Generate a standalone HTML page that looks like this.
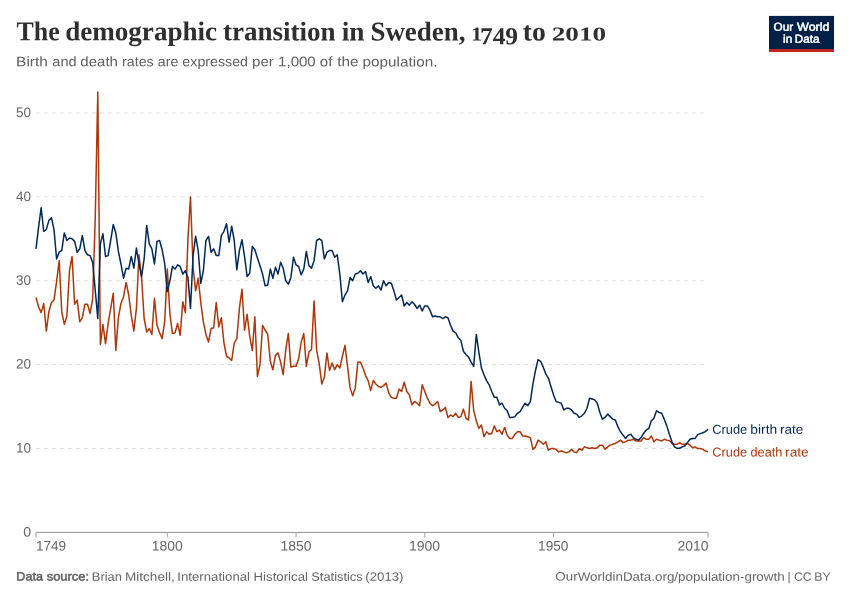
<!DOCTYPE html>
<html><head><meta charset="utf-8"><title>The demographic transition in Sweden, 1749 to 2010</title>
<style>
html,body{margin:0;padding:0;background:#fff;}
body{width:850px;height:600px;overflow:hidden;position:relative;font-family:"Liberation Sans",sans-serif;}
svg{position:absolute;left:0;top:0;}
text{text-rendering:geometricPrecision;}
.title{font-family:"Liberation Serif",serif;font-weight:bold;fill:#2f2f2f;}
.sub{font-family:"Liberation Sans",sans-serif;fill:#606060;}
.ax{font-family:"Liberation Sans",sans-serif;fill:#666;}
.foot{font-family:"Liberation Sans",sans-serif;fill:#666;}
.footb{font-family:"Liberation Sans",sans-serif;font-weight:normal;fill:#5b5b5b;stroke:#5b5b5b;stroke-width:0.45px;}
.labb{font-family:"Liberation Sans",sans-serif;fill:#00295b;}
.labd{font-family:"Liberation Sans",sans-serif;fill:#b13507;}
.logo{font-family:"Liberation Sans",sans-serif;font-weight:normal;fill:#fff;stroke:#fff;stroke-width:0.5px;}
.gl{stroke:#ddd;stroke-width:1;stroke-dasharray:4,4;}
</style></head><body>
<svg width="850" height="600" viewBox="0 0 850 600">
<rect width="850" height="600" fill="#fff"/>
<g id="title">
<text transform="rotate(0.03 311.0 40.4)"><tspan class="title" x="16.59" y="40.4" textLength="43.17" lengthAdjust="spacingAndGlyphs" style="font-size:27.2px">The</tspan> <tspan class="title" x="65.14" y="40.4" textLength="152.0" lengthAdjust="spacingAndGlyphs" style="font-size:27.2px">demographic</tspan> <tspan class="title" x="223.0" y="40.4" textLength="112.61" lengthAdjust="spacingAndGlyphs" style="font-size:27.2px">transition</tspan> <tspan class="title" x="341.76" y="40.4" textLength="22.77" lengthAdjust="spacingAndGlyphs" style="font-size:27.2px">in</tspan> <tspan class="title" x="370.45" y="40.4" textLength="95.05" lengthAdjust="spacingAndGlyphs" style="font-size:27.2px">Sweden,</tspan> <tspan class="title" x="471.0" y="40.3" textLength="11.26" lengthAdjust="spacingAndGlyphs" style="font-size:19.7px">1</tspan><tspan class="title" x="479.95" y="44.2" textLength="38.13" lengthAdjust="spacingAndGlyphs" style="font-size:24.4px">749</tspan> <tspan class="title" x="522.85" y="40.4" textLength="23.03" lengthAdjust="spacingAndGlyphs" style="font-size:27.2px">to</tspan> <tspan class="title" x="551.75" y="40.3" textLength="54.31" lengthAdjust="spacingAndGlyphs" style="font-size:19.7px">2010</tspan></text>
</g>
<g id="subtitle">
<text transform="rotate(0.03 226.7 66.3)"><tspan class="sub" x="16.13" y="66.3" textLength="31.8" lengthAdjust="spacingAndGlyphs" style="font-size:13.8px">Birth</tspan> <tspan class="sub" x="52.37" y="66.3" textLength="24.34" lengthAdjust="spacingAndGlyphs" style="font-size:13.8px">and</tspan> <tspan class="sub" x="80.37" y="66.3" textLength="37.55" lengthAdjust="spacingAndGlyphs" style="font-size:13.8px">death</tspan> <tspan class="sub" x="122.08" y="66.3" textLength="31.56" lengthAdjust="spacingAndGlyphs" style="font-size:13.8px">rates</tspan> <tspan class="sub" x="157.84" y="66.3" textLength="20.54" lengthAdjust="spacingAndGlyphs" style="font-size:13.8px">are</tspan> <tspan class="sub" x="182.36" y="66.3" textLength="65.64" lengthAdjust="spacingAndGlyphs" style="font-size:13.8px">expressed</tspan> <tspan class="sub" x="252.05" y="66.3" textLength="21.81" lengthAdjust="spacingAndGlyphs" style="font-size:13.8px">per</tspan> <tspan class="sub" x="278.09" y="66.3" textLength="37.66" lengthAdjust="spacingAndGlyphs" style="font-size:13.8px">1,000</tspan> <tspan class="sub" x="319.85" y="66.3" textLength="12.6" lengthAdjust="spacingAndGlyphs" style="font-size:13.8px">of</tspan> <tspan class="sub" x="337.22" y="66.3" textLength="21.36" lengthAdjust="spacingAndGlyphs" style="font-size:13.8px">the</tspan> <tspan class="sub" x="362.63" y="66.3" textLength="74.76" lengthAdjust="spacingAndGlyphs" style="font-size:13.8px">population.</tspan></text>
</g>
<g id="logo">
<rect x="769" y="15.9" width="65" height="36" fill="#002147"/>
<rect x="769" y="49.1" width="65" height="2.8" fill="#ce261e"/>
<text transform="rotate(0.03 801.4 30.8)"><tspan class="logo" x="773.64" y="30.8" textLength="19.55" lengthAdjust="spacingAndGlyphs" style="font-size:11.5px">Our</tspan> <tspan class="logo" x="797.13" y="30.8" textLength="32.37" lengthAdjust="spacingAndGlyphs" style="font-size:11.5px">World</tspan></text>
<text transform="rotate(0.03 801.6 42.7)"><tspan class="logo" x="783.1" y="42.7" textLength="9.25" lengthAdjust="spacingAndGlyphs" style="font-size:11.5px">in</tspan> <tspan class="logo" x="794.77" y="42.7" textLength="24.61" lengthAdjust="spacingAndGlyphs" style="font-size:11.5px">Data</tspan></text>
</g>
<g id="grid">
<line x1="36" x2="708" y1="448.52" y2="448.52" class="gl"/>
<text class="ax" x="16.04" y="452.5" transform="rotate(0.03 23.0 452.5)" textLength="15.05" lengthAdjust="spacingAndGlyphs" style="font-size:13.7px">10</text>
<line x1="36" x2="708" y1="364.64" y2="364.64" class="gl"/>
<text class="ax" x="16.04" y="368.6" transform="rotate(0.03 23.0 368.6)" textLength="15.05" lengthAdjust="spacingAndGlyphs" style="font-size:13.7px">20</text>
<line x1="36" x2="708" y1="280.76" y2="280.76" class="gl"/>
<text class="ax" x="16.04" y="284.8" transform="rotate(0.03 23.0 284.8)" textLength="15.05" lengthAdjust="spacingAndGlyphs" style="font-size:13.7px">30</text>
<line x1="36" x2="708" y1="196.88" y2="196.88" class="gl"/>
<text class="ax" x="16.04" y="200.9" transform="rotate(0.03 23.0 200.9)" textLength="15.05" lengthAdjust="spacingAndGlyphs" style="font-size:13.7px">40</text>
<line x1="36" x2="708" y1="113.00" y2="113.00" class="gl"/>
<text class="ax" x="16.04" y="117.0" transform="rotate(0.03 23.7 117.0)" textLength="15.05" lengthAdjust="spacingAndGlyphs" style="font-size:13.7px">50</text>
<text class="ax" x="23.29" y="536.5" transform="rotate(0.03 27.2 536.5)" textLength="7.91" lengthAdjust="spacingAndGlyphs" style="font-size:13.7px">0</text>
</g>
<g id="xaxis">
<line x1="36" x2="708" y1="532.4" y2="532.4" stroke="#8f8f8f" stroke-width="1"/>
<line x1="36.00" x2="36.00" y1="532.4" y2="537.4" stroke="#a1a1a1" stroke-width="1"/>
<line x1="167.31" x2="167.31" y1="532.4" y2="537.4" stroke="#a1a1a1" stroke-width="1"/>
<line x1="296.05" x2="296.05" y1="532.4" y2="537.4" stroke="#a1a1a1" stroke-width="1"/>
<line x1="424.78" x2="424.78" y1="532.4" y2="537.4" stroke="#a1a1a1" stroke-width="1"/>
<line x1="553.52" x2="553.52" y1="532.4" y2="537.4" stroke="#a1a1a1" stroke-width="1"/>
<line x1="708.00" x2="708.00" y1="532.4" y2="537.4" stroke="#a1a1a1" stroke-width="1"/>
<text class="ax" x="35.93" y="550.6" transform="rotate(0.03 51.2 550.6)" textLength="30.2" lengthAdjust="spacingAndGlyphs" style="font-size:13.7px">1749</text>
<text class="ax" x="151.7" y="550.6" transform="rotate(0.03 167.7 550.6)" textLength="31.15" lengthAdjust="spacingAndGlyphs" style="font-size:13.7px">1800</text>
<text class="ax" x="280.55" y="550.6" transform="rotate(0.03 296.4 550.6)" textLength="31.0" lengthAdjust="spacingAndGlyphs" style="font-size:13.7px">1850</text>
<text class="ax" x="677.56" y="550.6" transform="rotate(0.03 693.1 550.6)" textLength="30.99" lengthAdjust="spacingAndGlyphs" style="font-size:13.7px">2010</text>
<text class="ax" x="408.99" y="550.6" transform="rotate(0.03 425.0 550.6)" textLength="31.18" lengthAdjust="spacingAndGlyphs" style="font-size:13.7px">1900</text>
<text class="ax" x="538.05" y="550.6" transform="rotate(0.03 553.7 550.6)" textLength="30.43" lengthAdjust="spacingAndGlyphs" style="font-size:13.7px">1950</text>
</g>
<g id="lines">
<path d="M36.00,297.54L38.57,306.76L41.15,312.63L43.72,303.41L46.30,331.09L48.87,311.80L51.45,302.57L54.02,300.05L56.60,281.60L59.17,260.63L61.75,311.80L64.32,324.38L66.90,315.99L69.47,270.69L72.05,256.43L74.62,304.25L77.20,300.05L79.77,321.86L82.34,317.67L84.92,304.25L87.49,304.25L90.07,313.47L92.64,299.21L95.22,218.69L97.79,92.03L100.37,344.51L102.94,324.38L105.52,343.67L108.09,323.54L110.67,308.44L113.24,293.34L115.82,350.38L118.39,317.67L120.97,303.41L123.54,296.70L126.11,282.44L128.69,295.02L131.26,315.15L133.84,331.09L136.41,308.44L138.99,254.76L141.56,277.40L144.14,318.51L146.71,331.93L149.29,328.57L151.86,334.44L154.44,298.37L157.01,325.22L159.59,332.77L162.16,338.64L164.74,321.02L167.31,269.02L169.89,313.47L172.46,333.60L175.03,332.77L177.61,323.54L180.18,335.28L182.76,301.73L185.33,312.63L187.91,239.66L190.48,196.88L193.06,267.34L195.63,290.83L198.21,278.24L200.78,302.57L203.36,321.86L205.93,334.44L208.51,341.99L211.08,328.57L213.66,327.73L216.23,302.57L218.80,326.89L221.38,317.67L223.95,342.83L226.53,356.25L229.10,357.93L231.68,360.45L234.25,342.83L236.83,338.64L239.40,308.44L241.98,289.15L244.55,330.25L247.13,314.31L249.70,336.12L252.28,350.38L254.85,316.83L257.43,376.38L260.00,364.64L262.57,325.22L265.15,330.25L267.72,334.44L270.30,361.28L272.87,369.67L275.45,355.41L278.02,352.90L280.60,362.12L283.17,374.71L285.75,349.54L288.32,333.60L290.90,367.16L293.47,366.32L296.05,366.32L298.62,358.77L301.20,341.99L303.77,333.60L306.34,366.32L308.92,352.06L311.49,349.54L314.07,300.89L316.64,350.38L319.22,363.80L321.79,383.93L324.37,377.22L326.94,352.90L329.52,370.51L332.09,362.96L334.67,369.67L337.24,364.64L339.82,368.00L342.39,356.25L344.97,345.35L347.54,366.32L350.11,388.13L352.69,395.68L355.26,388.13L357.84,362.12L360.41,362.12L362.99,368.00L365.56,375.54L368.14,380.58L370.71,390.64L373.29,380.58L375.86,383.93L378.44,386.45L381.01,387.29L383.59,385.61L386.16,383.09L388.74,393.16L391.31,397.35L393.89,398.19L396.46,398.19L399.03,388.97L401.61,391.48L404.18,382.25L406.76,391.48L409.33,394.84L411.91,404.90L414.48,401.55L417.06,403.22L419.63,405.74L422.21,384.77L424.78,391.48L427.36,398.19L429.93,403.22L432.51,405.74L435.08,404.06L437.66,401.55L440.23,411.61L442.80,409.94L445.38,407.42L447.95,417.48L450.53,414.97L453.10,416.65L455.68,413.29L458.25,417.48L460.83,416.65L463.40,409.10L465.98,418.32L468.55,420.00L471.13,381.42L473.70,410.77L476.28,420.84L478.85,428.39L481.43,425.03L484.00,436.78L486.57,431.74L489.15,434.26L491.72,433.42L494.30,425.87L496.87,431.74L499.45,430.07L502.02,434.26L504.60,427.55L507.17,435.10L509.75,438.45L512.32,438.45L514.90,434.26L517.47,431.74L520.05,431.74L522.62,435.94L525.20,435.94L527.77,436.78L530.34,437.62L532.92,449.36L535.49,446.84L538.07,440.13L540.64,441.81L543.22,444.33L545.79,441.81L548.37,450.20L550.94,448.52L553.52,448.52L556.09,449.36L558.67,451.88L561.24,451.04L563.82,451.88L566.39,452.71L568.97,451.88L571.54,449.36L574.11,451.88L576.69,452.71L579.26,448.52L581.84,450.20L584.41,446.84L586.99,447.68L589.56,448.52L592.14,447.68L594.71,448.52L597.29,447.68L599.86,445.16L602.44,445.16L605.01,449.36L607.59,446.84L610.16,445.16L612.74,444.33L615.31,443.49L617.89,441.81L620.46,440.13L623.03,442.65L625.61,441.81L628.18,440.13L630.76,440.13L633.33,439.29L635.91,440.97L638.48,440.97L641.06,440.97L643.63,437.62L646.21,439.29L648.78,439.29L651.36,435.94L653.93,441.81L656.51,439.29L659.08,440.13L661.66,440.97L664.23,439.29L666.80,440.13L669.38,440.38L671.95,443.49L674.53,444.33L677.10,444.33L679.68,442.65L682.25,444.33L684.83,444.33L687.40,443.49L689.98,445.16L692.55,447.68L695.13,446.84L697.70,448.52L700.28,448.52L702.85,449.36L705.43,451.04L708.00,451.88" fill="none" stroke="#b13507" stroke-width="1.5" stroke-linejoin="round" stroke-linecap="butt"/>
<path d="M36.00,248.89L38.57,227.08L41.15,207.78L43.72,231.27L46.30,229.59L48.87,220.37L51.45,217.85L54.02,229.59L56.60,258.95L59.17,252.24L61.75,250.56L64.32,232.95L66.90,240.50L69.47,237.98L72.05,238.82L74.62,241.34L77.20,252.24L79.77,248.89L82.34,235.46L84.92,250.56L87.49,254.76L90.07,255.60L92.64,262.31L95.22,289.99L97.79,318.51L100.37,243.85L102.94,233.79L105.52,256.43L108.09,255.60L110.67,240.50L113.24,224.56L115.82,232.95L118.39,251.40L120.97,263.98L123.54,278.24L126.11,268.18L128.69,269.02L131.26,256.43L133.84,268.18L136.41,248.05L138.99,263.98L141.56,276.57L144.14,258.95L146.71,225.40L149.29,243.85L151.86,248.89L154.44,263.98L157.01,241.34L159.59,240.50L162.16,249.72L164.74,263.98L167.31,291.66L169.89,280.76L172.46,266.50L175.03,269.02L177.61,264.82L180.18,266.50L182.76,274.05L185.33,270.69L187.91,277.40L190.48,308.44L193.06,255.60L195.63,236.30L198.21,250.56L200.78,283.28L203.36,270.69L205.93,240.50L208.51,236.30L211.08,252.24L213.66,248.89L216.23,255.60L218.80,255.60L221.38,235.46L223.95,231.27L226.53,223.72L229.10,242.18L231.68,226.24L234.25,240.50L236.83,269.86L239.40,250.56L241.98,239.66L244.55,256.43L247.13,276.57L249.70,273.21L252.28,246.37L254.85,249.72L257.43,258.11L260.00,265.66L262.57,274.05L265.15,285.79L267.72,284.95L270.30,269.02L272.87,278.24L275.45,267.34L278.02,274.05L280.60,262.31L283.17,268.18L285.75,280.76L288.32,284.12L290.90,277.40L293.47,257.27L296.05,264.82L298.62,266.50L301.20,274.89L303.77,269.02L306.34,251.40L308.92,265.66L311.49,268.18L314.07,260.63L316.64,240.50L319.22,238.82L321.79,240.50L324.37,258.95L326.94,252.24L329.52,250.56L332.09,250.56L334.67,257.27L337.24,254.76L339.82,274.05L342.39,301.73L344.97,295.02L347.54,290.83L350.11,277.40L352.69,280.76L355.26,274.05L357.84,273.21L360.41,270.69L362.99,274.05L365.56,271.53L368.14,282.44L370.71,276.57L373.29,285.79L375.86,288.31L378.44,285.79L381.01,289.99L383.59,280.76L386.16,285.79L388.74,282.44L391.31,283.28L393.89,290.83L396.46,300.05L399.03,297.54L401.61,295.02L404.18,305.92L406.76,302.57L409.33,305.09L411.91,301.73L414.48,304.25L417.06,308.44L419.63,305.09L422.21,310.96L424.78,305.92L427.36,305.92L429.93,310.12L432.51,316.83L435.08,315.99L437.66,316.83L440.23,316.83L442.80,318.51L445.38,316.83L447.95,317.67L450.53,325.22L453.10,331.09L455.68,332.77L458.25,337.80L460.83,340.31L463.40,351.22L465.98,354.57L468.55,357.09L471.13,362.12L473.70,366.32L476.28,334.44L478.85,352.06L481.43,368.00L484.00,374.71L486.57,380.58L489.15,384.77L491.72,391.48L494.30,397.35L496.87,397.35L499.45,404.90L502.02,403.22L504.60,408.26L507.17,410.77L509.75,417.48L512.32,417.48L514.90,416.65L517.47,413.29L520.05,411.61L522.62,407.42L525.20,403.22L527.77,405.74L530.34,401.55L532.92,383.93L535.49,370.51L538.07,359.61L540.64,361.28L543.22,367.16L545.79,373.87L548.37,378.06L550.94,386.45L553.52,394.84L556.09,401.55L558.67,402.39L561.24,403.22L563.82,409.94L566.39,408.26L568.97,408.26L571.54,409.94L574.11,413.29L576.69,414.13L579.26,417.48L581.84,415.81L584.41,413.29L586.99,408.26L589.56,398.19L592.14,399.03L594.71,399.87L597.29,403.22L599.86,412.45L602.44,419.16L605.01,417.48L607.59,414.13L610.16,416.65L612.74,419.16L615.31,420.00L617.89,426.71L620.46,431.74L623.03,435.10L625.61,438.45L628.18,435.10L630.76,434.26L633.33,437.62L635.91,439.29L638.48,440.13L641.06,437.62L643.63,433.42L646.21,430.07L648.78,428.39L651.36,420.84L653.93,418.32L656.51,410.77L659.08,412.45L661.66,413.29L664.23,419.16L666.80,425.87L669.38,434.26L671.95,441.81L674.53,446.84L677.10,448.35L679.68,448.27L682.25,446.84L684.83,446.00L687.40,442.65L689.98,439.29L692.55,438.45L695.13,438.45L697.70,434.60L700.28,433.59L702.85,432.75L705.43,431.58L708.00,429.23" fill="none" stroke="#00295b" stroke-width="1.5" stroke-linejoin="round" stroke-linecap="butt"/>
</g>
<g id="legend">
<text transform="rotate(0.03 757.8 433.8)"><tspan class="labb" x="712.34" y="433.8" textLength="34.87" lengthAdjust="spacingAndGlyphs" style="font-size:13.0px">Crude</tspan> <tspan class="labb" x="750.34" y="433.8" textLength="26.86" lengthAdjust="spacingAndGlyphs" style="font-size:13.0px">birth</tspan> <tspan class="labb" x="779.94" y="433.8" textLength="23.42" lengthAdjust="spacingAndGlyphs" style="font-size:13.0px">rate</tspan></text>
<text transform="rotate(0.03 760.5 456.5)"><tspan class="labd" x="712.33" y="456.5" textLength="34.86" lengthAdjust="spacingAndGlyphs" style="font-size:13.0px">Crude</tspan> <tspan class="labd" x="750.5" y="456.5" textLength="31.81" lengthAdjust="spacingAndGlyphs" style="font-size:13.0px">death</tspan> <tspan class="labd" x="785.12" y="456.5" textLength="23.64" lengthAdjust="spacingAndGlyphs" style="font-size:13.0px">rate</tspan></text>
</g>
<g id="footer">
<text transform="rotate(0.03 209.8 580.7)"><tspan class="footb" x="16.33" y="580.7" textLength="26.55" lengthAdjust="spacingAndGlyphs" style="font-size:12.2px">Data</tspan> <tspan class="footb" x="46.69" y="580.7" textLength="42.41" lengthAdjust="spacingAndGlyphs" style="font-size:12.2px">source:</tspan> <tspan class="foot" x="91.87" y="580.7" textLength="30.07" lengthAdjust="spacingAndGlyphs" style="font-size:12.1px">Brian</tspan> <tspan class="foot" x="124.98" y="580.7" textLength="49.81" lengthAdjust="spacingAndGlyphs" style="font-size:12.1px">Mitchell,</tspan> <tspan class="foot" x="177.36" y="580.7" textLength="72.65" lengthAdjust="spacingAndGlyphs" style="font-size:12.1px">International</tspan> <tspan class="foot" x="253.54" y="580.7" textLength="54.42" lengthAdjust="spacingAndGlyphs" style="font-size:12.1px">Historical</tspan> <tspan class="foot" x="311.29" y="580.7" textLength="51.39" lengthAdjust="spacingAndGlyphs" style="font-size:12.1px">Statistics</tspan> <tspan class="foot" x="365.29" y="580.7" textLength="38.25" lengthAdjust="spacingAndGlyphs" style="font-size:12.1px">(2013)</tspan></text>
<text transform="rotate(0.03 693.0 580.7)"><tspan class="foot" x="555.35" y="580.7" textLength="229.36" lengthAdjust="spacingAndGlyphs" style="font-size:12.1px">OurWorldinData.org/population-growth</tspan> <tspan class="foot" x="787.63" y="580.7" style="font-size:12.1px">|</tspan> <tspan class="foot" x="794.05" y="580.7" textLength="17.62" lengthAdjust="spacingAndGlyphs" style="font-size:12.1px">CC</tspan> <tspan class="foot" x="814.33" y="580.7" textLength="16.35" lengthAdjust="spacingAndGlyphs" style="font-size:12.1px">BY</tspan></text>
</g>
</svg>
</body></html>
